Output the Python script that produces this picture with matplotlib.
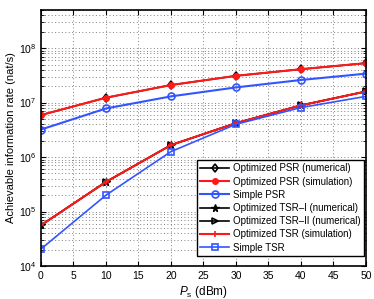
import matplotlib.pyplot as plt
import numpy as np

plt.rcParams['font.family'] = ['Liberation Sans', 'DejaVu Sans']
plt.rcParams['mathtext.fontset'] = 'custom'
plt.rcParams['mathtext.it'] = 'Liberation Sans:italic'
plt.rcParams['mathtext.rm'] = 'Liberation Sans'

# Data
ps_dbm = [0, 10, 20, 30, 40, 50]
psr_opt = [5.9e6, 1.23e7, 2.1e7, 3.1e7, 4.1e7, 5.3e7]
psr_simple = [3.2e6, 7.8e6, 1.3e7, 1.9e7, 2.6e7, 3.4e7]
tsr_opt = [5.6e4, 3.5e5, 1.66e6, 4.2e6, 8.9e6, 1.6e7]
tsr_simple = [2.05e4, 2.0e5, 1.26e6, 4.0e6, 8.1e6, 1.3e7]

fig = plt.figure(figsize=(3.74, 2.99), dpi=100)
ax = fig.add_axes([0.1096, 0.1104, 0.869, 0.856])

ax.plot(ps_dbm, psr_opt, color='k', marker='d', ms=4.5, mfc='none', mew=1.2, lw=1.2,
        label='Optimized PSR (numerical)')
ax.plot(ps_dbm, psr_opt, color='#ff1a1a', marker='o', ms=4, lw=1.5,
        label='Optimized PSR (simulation)')
ax.plot(ps_dbm, psr_simple, color='#3355ff', marker='o', ms=5, mfc='none', mew=1.2, lw=1.5,
        label='Simple PSR')
ax.plot(ps_dbm, tsr_opt, color='k', marker='*', ms=5.5, lw=1.2,
        label='Optimized TSR\u2013I (numerical)')
ax.plot(ps_dbm, tsr_opt, color='k', marker='>', ms=4.5, mfc='none', mew=1.2, lw=1.2,
        label='Optimized TSR\u2013II (numerical)')
ax.plot(ps_dbm, tsr_opt, color='#ff1a1a', marker='+', ms=5, mew=1.2, lw=1.5,
        label='Optimized TSR (simulation)')
ax.plot(ps_dbm, tsr_simple, color='#3355ff', marker='s', ms=4.5, mfc='none', mew=1.2, lw=1.2,
        label='Simple TSR')

ax.set_yscale('log')
ax.set_ylim(1e4, 5e8)
ax.set_xlim(0, 50)
ax.set_xticks(np.arange(0, 51, 5))
ax.set_yticks([1e4, 1e5, 1e6, 1e7, 1e8])

ax.grid(True, which='major', linestyle=(0, (1, 2.5)), color='0.5', lw=0.7)
ax.grid(True, which='minor', axis='y', linestyle=(0, (1, 2.5)), color='0.5', lw=0.7)
ax.tick_params(which='both', direction='in', top=True, right=True, labelsize=7.5)
ax.tick_params(which='major', length=3.5)
ax.tick_params(which='minor', length=2)
for s in ax.spines.values():
    s.set_linewidth(1.2)

ax.set_xlabel(r'$P_{\rm s}$ (dBm)', fontsize=8.5, labelpad=2)
ax.set_ylabel('Achievable information rate (nat/s)', fontsize=8, labelpad=2)

leg = ax.legend(loc='lower right', bbox_to_anchor=(0.994, 0.039), fontsize=7.0,
                handlelength=3.0, borderpad=0.35, labelspacing=0.33, handletextpad=0.4,
                fancybox=False, framealpha=1, edgecolor='k', borderaxespad=0)
leg.get_frame().set_linewidth(1.0)

plt.savefig('out.png', dpi=100)
